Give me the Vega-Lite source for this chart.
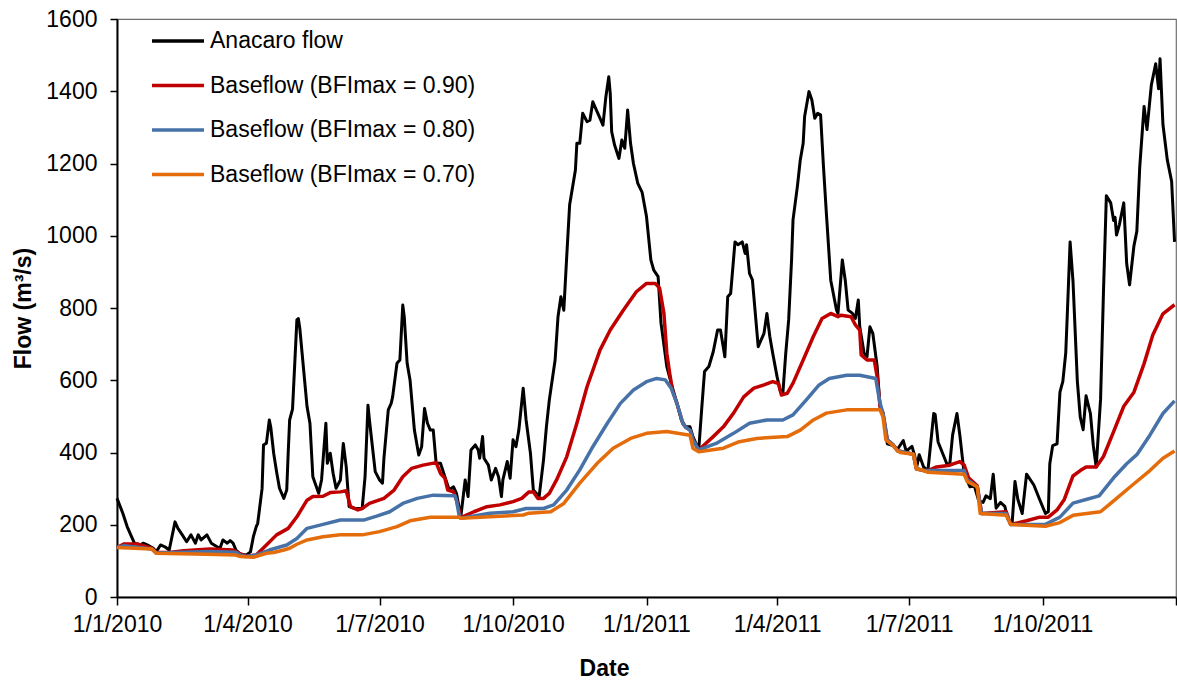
{
  "$schema": "https://vega.github.io/schema/vega-lite/v6.json",
  "width": 1059,
  "height": 578,
  "autosize": {"type": "none"},
  "padding": {"left": 117, "top": 19, "right": 1, "bottom": 87},
  "background": "white",
  "config": {
    "font": "Liberation Sans",
    "view": {"stroke": "#6f6f6f", "strokeWidth": 1.2}
  },
  "datasets": {
    "anacaro": [
      {"date":"2010-01-01","flow":273},{"date":"2010-01-05","flow":232},{"date":"2010-01-08","flow":195},{"date":"2010-01-11","flow":167},{"date":"2010-01-13","flow":149},{"date":"2010-01-17","flow":144},{"date":"2010-01-19","flow":149},{"date":"2010-01-23","flow":142},{"date":"2010-01-26","flow":135},{"date":"2010-01-28","flow":125},{"date":"2010-01-31","flow":144},
      {"date":"2010-02-03","flow":139},{"date":"2010-02-06","flow":130},{"date":"2010-02-10","flow":208},{"date":"2010-02-12","flow":190},{"date":"2010-02-15","flow":172},{"date":"2010-02-18","flow":153},{"date":"2010-02-21","flow":172},{"date":"2010-02-24","flow":149},{"date":"2010-02-26","flow":172},{"date":"2010-02-28","flow":158},
      {"date":"2010-03-04","flow":172},{"date":"2010-03-07","flow":149},{"date":"2010-03-11","flow":139},{"date":"2010-03-13","flow":135},{"date":"2010-03-15","flow":158},{"date":"2010-03-18","flow":149},{"date":"2010-03-20","flow":156},{"date":"2010-03-22","flow":149},{"date":"2010-03-24","flow":130},{"date":"2010-03-27","flow":119},{"date":"2010-03-31","flow":116},
      {"date":"2010-04-03","flow":125},{"date":"2010-04-05","flow":167},{"date":"2010-04-07","flow":195},{"date":"2010-04-08","flow":204},{"date":"2010-04-11","flow":300},{"date":"2010-04-12","flow":421},{"date":"2010-04-14","flow":426},{"date":"2010-04-16","flow":490},{"date":"2010-04-17","flow":470},{"date":"2010-04-19","flow":398},{"date":"2010-04-21","flow":347},{"date":"2010-04-23","flow":301},{"date":"2010-04-26","flow":273},{"date":"2010-04-28","flow":296},{"date":"2010-04-29","flow":398},{"date":"2010-04-30","flow":490},
      {"date":"2010-05-02","flow":520},{"date":"2010-05-05","flow":767},{"date":"2010-05-06","flow":771},{"date":"2010-05-07","flow":744},{"date":"2010-05-12","flow":527},{"date":"2010-05-14","flow":481},{"date":"2010-05-16","flow":333},{"date":"2010-05-20","flow":287},{"date":"2010-05-22","flow":324},{"date":"2010-05-25","flow":481},{"date":"2010-05-26","flow":370},{"date":"2010-05-28","flow":398},{"date":"2010-05-30","flow":342},
      {"date":"2010-06-01","flow":301},{"date":"2010-06-04","flow":324},{"date":"2010-06-06","flow":425},{"date":"2010-06-08","flow":361},{"date":"2010-06-10","flow":250},{"date":"2010-06-14","flow":245},{"date":"2010-06-19","flow":245},{"date":"2010-06-21","flow":333},{"date":"2010-06-23","flow":531},{"date":"2010-06-24","flow":490},{"date":"2010-06-28","flow":347},
      {"date":"2010-07-01","flow":324},{"date":"2010-07-03","flow":315},{"date":"2010-07-04","flow":384},{"date":"2010-07-07","flow":518},{"date":"2010-07-09","flow":536},{"date":"2010-07-10","flow":554},{"date":"2010-07-13","flow":647},{"date":"2010-07-15","flow":656},{"date":"2010-07-17","flow":808},{"date":"2010-07-18","flow":776},{"date":"2010-07-20","flow":647},{"date":"2010-07-22","flow":601},{"date":"2010-07-25","flow":462},{"date":"2010-07-28","flow":393},{"date":"2010-07-30","flow":416},
      {"date":"2010-08-01","flow":522},{"date":"2010-08-03","flow":481},{"date":"2010-08-05","flow":462},{"date":"2010-08-07","flow":462},{"date":"2010-08-09","flow":370},{"date":"2010-08-12","flow":370},{"date":"2010-08-15","flow":333},{"date":"2010-08-18","flow":296},{"date":"2010-08-21","flow":305},{"date":"2010-08-23","flow":287},{"date":"2010-08-26","flow":222},{"date":"2010-08-29","flow":324},{"date":"2010-08-31","flow":278},
      {"date":"2010-09-02","flow":407},{"date":"2010-09-05","flow":421},{"date":"2010-09-07","flow":407},{"date":"2010-09-08","flow":384},{"date":"2010-09-10","flow":444},{"date":"2010-09-11","flow":384},{"date":"2010-09-14","flow":365},{"date":"2010-09-16","flow":324},{"date":"2010-09-19","flow":356},{"date":"2010-09-21","flow":333},{"date":"2010-09-23","flow":278},{"date":"2010-09-24","flow":324},{"date":"2010-09-27","flow":375},{"date":"2010-09-29","flow":329},
      {"date":"2010-10-01","flow":435},{"date":"2010-10-03","flow":416},{"date":"2010-10-05","flow":462},{"date":"2010-10-08","flow":578},{"date":"2010-10-10","flow":490},{"date":"2010-10-13","flow":398},{"date":"2010-10-15","flow":296},{"date":"2010-10-19","flow":278},{"date":"2010-10-22","flow":379},{"date":"2010-10-24","flow":471},{"date":"2010-10-26","flow":545},{"date":"2010-10-30","flow":656},
      {"date":"2010-11-01","flow":776},{"date":"2010-11-03","flow":831},{"date":"2010-11-05","flow":794},{"date":"2010-11-07","flow":942},{"date":"2010-11-09","flow":1085},{"date":"2010-11-13","flow":1182},{"date":"2010-11-14","flow":1256},{"date":"2010-11-16","flow":1256},{"date":"2010-11-18","flow":1339},{"date":"2010-11-21","flow":1316},{"date":"2010-11-23","flow":1320},{"date":"2010-11-25","flow":1371},{"date":"2010-11-28","flow":1343},{"date":"2010-11-30","flow":1325},
      {"date":"2010-12-02","flow":1306},{"date":"2010-12-04","flow":1385},{"date":"2010-12-06","flow":1440},{"date":"2010-12-07","flow":1394},{"date":"2010-12-08","flow":1288},{"date":"2010-12-10","flow":1251},{"date":"2010-12-13","flow":1214},{"date":"2010-12-15","flow":1265},{"date":"2010-12-17","flow":1242},{"date":"2010-12-19","flow":1348},{"date":"2010-12-21","flow":1256},{"date":"2010-12-23","flow":1200},{"date":"2010-12-26","flow":1145},{"date":"2010-12-29","flow":1120},
      {"date":"2011-01-01","flow":1053},{"date":"2011-01-04","flow":933},{"date":"2011-01-06","flow":905},{"date":"2011-01-09","flow":887},{"date":"2011-01-11","flow":758},{"date":"2011-01-15","flow":638},{"date":"2011-01-18","flow":592},{"date":"2011-01-22","flow":536},{"date":"2011-01-25","flow":490},{"date":"2011-01-28","flow":471},{"date":"2011-01-31","flow":471},
      {"date":"2011-02-02","flow":444},{"date":"2011-02-06","flow":407},{"date":"2011-02-08","flow":518},{"date":"2011-02-10","flow":624},{"date":"2011-02-13","flow":638},{"date":"2011-02-16","flow":679},{"date":"2011-02-19","flow":739},{"date":"2011-02-21","flow":739},{"date":"2011-02-24","flow":665},{"date":"2011-02-26","flow":831},{"date":"2011-02-28","flow":840},
      {"date":"2011-03-03","flow":983},{"date":"2011-03-05","flow":975},{"date":"2011-03-08","flow":983},{"date":"2011-03-10","flow":951},{"date":"2011-03-11","flow":975},{"date":"2011-03-13","flow":896},{"date":"2011-03-15","flow":878},{"date":"2011-03-19","flow":693},{"date":"2011-03-23","flow":730},{"date":"2011-03-25","flow":785},{"date":"2011-03-27","flow":721},{"date":"2011-03-29","flow":675},
      {"date":"2011-04-01","flow":610},{"date":"2011-04-03","flow":573},{"date":"2011-04-05","flow":564},{"date":"2011-04-07","flow":675},{"date":"2011-04-09","flow":767},{"date":"2011-04-11","flow":933},{"date":"2011-04-12","flow":1044},{"date":"2011-04-15","flow":1136},{"date":"2011-04-17","flow":1210},{"date":"2011-04-19","flow":1256},{"date":"2011-04-20","flow":1330},{"date":"2011-04-23","flow":1399},{"date":"2011-04-25","flow":1376},{"date":"2011-04-27","flow":1325},{"date":"2011-04-29","flow":1339},
      {"date":"2011-05-01","flow":1335},{"date":"2011-05-03","flow":1191},{"date":"2011-05-05","flow":1062},{"date":"2011-05-08","flow":877},{"date":"2011-05-12","flow":794},{"date":"2011-05-13","flow":785},{"date":"2011-05-16","flow":933},{"date":"2011-05-18","flow":877},{"date":"2011-05-20","flow":794},{"date":"2011-05-23","flow":785},{"date":"2011-05-25","flow":771},{"date":"2011-05-27","flow":822},{"date":"2011-05-28","flow":748},{"date":"2011-05-31","flow":675},
      {"date":"2011-06-02","flow":665},{"date":"2011-06-04","flow":748},{"date":"2011-06-06","flow":730},{"date":"2011-06-09","flow":638},{"date":"2011-06-11","flow":527},{"date":"2011-06-13","flow":509},{"date":"2011-06-16","flow":424},{"date":"2011-06-20","flow":419},{"date":"2011-06-23","flow":409},{"date":"2011-06-27","flow":433},{"date":"2011-06-29","flow":404},
      {"date":"2011-07-03","flow":417},{"date":"2011-07-05","flow":389},{"date":"2011-07-06","flow":355},{"date":"2011-07-08","flow":394},{"date":"2011-07-11","flow":360},{"date":"2011-07-14","flow":350},{"date":"2011-07-18","flow":508},{"date":"2011-07-19","flow":505},{"date":"2011-07-21","flow":429},{"date":"2011-07-25","flow":389},{"date":"2011-07-27","flow":369},{"date":"2011-07-29","flow":365},{"date":"2011-07-31","flow":448},
      {"date":"2011-08-03","flow":508},{"date":"2011-08-05","flow":448},{"date":"2011-08-08","flow":340},{"date":"2011-08-12","flow":305},{"date":"2011-08-15","flow":308},{"date":"2011-08-18","flow":266},{"date":"2011-08-21","flow":262},{"date":"2011-08-23","flow":280},{"date":"2011-08-26","flow":272},{"date":"2011-08-28","flow":340},{"date":"2011-08-30","flow":246},
      {"date":"2011-09-02","flow":262},{"date":"2011-09-05","flow":251},{"date":"2011-09-07","flow":216},{"date":"2011-09-10","flow":201},{"date":"2011-09-12","flow":320},{"date":"2011-09-14","flow":270},{"date":"2011-09-17","flow":231},{"date":"2011-09-20","flow":340},{"date":"2011-09-25","flow":310},{"date":"2011-09-29","flow":270},
      {"date":"2011-10-03","flow":231},{"date":"2011-10-05","flow":236},{"date":"2011-10-06","flow":369},{"date":"2011-10-08","flow":419},{"date":"2011-10-11","flow":424},{"date":"2011-10-13","flow":567},{"date":"2011-10-15","flow":597},{"date":"2011-10-17","flow":676},{"date":"2011-10-18","flow":775},{"date":"2011-10-20","flow":983},{"date":"2011-10-22","flow":874},{"date":"2011-10-25","flow":597},{"date":"2011-10-27","flow":498},{"date":"2011-10-29","flow":463},{"date":"2011-10-31","flow":557},
      {"date":"2011-11-03","flow":508},{"date":"2011-11-05","flow":419},{"date":"2011-11-07","flow":360},{"date":"2011-11-10","flow":547},{"date":"2011-11-12","flow":844},{"date":"2011-11-14","flow":1111},{"date":"2011-11-17","flow":1091},{"date":"2011-11-19","flow":1042},{"date":"2011-11-20","flow":1051},{"date":"2011-11-21","flow":1002},{"date":"2011-11-23","flow":1031},{"date":"2011-11-26","flow":1091},{"date":"2011-11-28","flow":923},{"date":"2011-11-30","flow":864},
      {"date":"2011-12-03","flow":972},{"date":"2011-12-05","flow":1012},{"date":"2011-12-07","flow":1190},{"date":"2011-12-10","flow":1358},{"date":"2011-12-12","flow":1294},{"date":"2011-12-15","flow":1417},{"date":"2011-12-18","flow":1476},{"date":"2011-12-20","flow":1407},{"date":"2011-12-21","flow":1490},{"date":"2011-12-23","flow":1308},{"date":"2011-12-26","flow":1210},{"date":"2011-12-29","flow":1150},{"date":"2011-12-31","flow":983}
    ],
    "bf90": [
      {"date":"2010-01-01","flow":137},{"date":"2010-01-06","flow":147},{"date":"2010-01-15","flow":147},{"date":"2010-01-19","flow":142},{"date":"2010-01-25","flow":135},{"date":"2010-01-28","flow":123},{"date":"2010-02-06","flow":123},{"date":"2010-02-16","flow":128},{"date":"2010-03-06","flow":133},{"date":"2010-03-22","flow":130},{"date":"2010-03-27","flow":119},{"date":"2010-03-31","flow":113},
      {"date":"2010-04-07","flow":116},{"date":"2010-04-14","flow":144},{"date":"2010-04-21","flow":172},{"date":"2010-04-29","flow":190},{"date":"2010-05-05","flow":222},{"date":"2010-05-12","flow":268},{"date":"2010-05-16","flow":278},{"date":"2010-05-23","flow":279},{"date":"2010-05-28","flow":289},{"date":"2010-06-04","flow":291},{"date":"2010-06-08","flow":294},{"date":"2010-06-11","flow":250},{"date":"2010-06-16","flow":241},{"date":"2010-06-19","flow":245},{"date":"2010-06-24","flow":259},
      {"date":"2010-07-04","flow":273},{"date":"2010-07-11","flow":296},{"date":"2010-07-17","flow":333},{"date":"2010-07-23","flow":356},{"date":"2010-07-31","flow":365},{"date":"2010-08-09","flow":372},{"date":"2010-08-12","flow":342},{"date":"2010-08-15","flow":329},{"date":"2010-08-17","flow":296},{"date":"2010-08-21","flow":291},{"date":"2010-08-23","flow":268},{"date":"2010-08-26","flow":220},
      {"date":"2010-09-04","flow":236},{"date":"2010-09-13","flow":250},{"date":"2010-09-22","flow":255},{"date":"2010-10-01","flow":264},{"date":"2010-10-07","flow":273},{"date":"2010-10-12","flow":291},{"date":"2010-10-15","flow":291},{"date":"2010-10-18","flow":273},{"date":"2010-10-22","flow":273},{"date":"2010-10-26","flow":287},{"date":"2010-10-31","flow":324},
      {"date":"2010-11-07","flow":388},{"date":"2010-11-14","flow":481},{"date":"2010-11-21","flow":582},{"date":"2010-11-30","flow":684},{"date":"2010-12-07","flow":739},{"date":"2010-12-16","flow":794},{"date":"2010-12-25","flow":845},{"date":"2011-01-01","flow":868},{"date":"2011-01-07","flow":868},{"date":"2011-01-10","flow":855},{"date":"2011-01-13","flow":785},{"date":"2011-01-15","flow":675},{"date":"2011-01-17","flow":619},{"date":"2011-01-19","flow":570},{"date":"2011-01-22","flow":536},{"date":"2011-01-26","flow":481},{"date":"2011-01-28","flow":470},{"date":"2011-01-31","flow":462},
      {"date":"2011-02-02","flow":435},{"date":"2011-02-06","flow":407},{"date":"2011-02-16","flow":444},{"date":"2011-02-23","flow":471},{"date":"2011-03-02","flow":509},{"date":"2011-03-09","flow":554},{"date":"2011-03-16","flow":578},{"date":"2011-03-23","flow":587},{"date":"2011-03-29","flow":596},{"date":"2011-04-02","flow":591},{"date":"2011-04-04","flow":559},{"date":"2011-04-08","flow":564},{"date":"2011-04-12","flow":592},{"date":"2011-04-19","flow":656},{"date":"2011-04-26","flow":721},
      {"date":"2011-05-02","flow":771},{"date":"2011-05-08","flow":785},{"date":"2011-05-13","flow":776},{"date":"2011-05-15","flow":780},{"date":"2011-05-22","flow":776},{"date":"2011-05-25","flow":753},{"date":"2011-05-28","flow":739},{"date":"2011-05-29","flow":670},{"date":"2011-06-02","flow":656},{"date":"2011-06-07","flow":656},{"date":"2011-06-09","flow":610},{"date":"2011-06-11","flow":527},{"date":"2011-06-13","flow":509},{"date":"2011-06-16","flow":435},{"date":"2011-06-20","flow":421},{"date":"2011-06-23","flow":405},
      {"date":"2011-07-04","flow":395},{"date":"2011-07-06","flow":355},{"date":"2011-07-11","flow":350},{"date":"2011-07-14","flow":350},{"date":"2011-07-20","flow":360},{"date":"2011-07-29","flow":365},{"date":"2011-08-05","flow":375},{"date":"2011-08-08","flow":365},{"date":"2011-08-11","flow":330},{"date":"2011-08-17","flow":308},{"date":"2011-08-20","flow":231},
      {"date":"2011-09-06","flow":236},{"date":"2011-09-09","flow":201},{"date":"2011-09-20","flow":211},{"date":"2011-09-29","flow":221},{"date":"2011-10-05","flow":221},{"date":"2011-10-11","flow":241},{"date":"2011-10-16","flow":270},{"date":"2011-10-22","flow":335},{"date":"2011-10-27","flow":350},{"date":"2011-10-31","flow":360},{"date":"2011-11-07","flow":360},{"date":"2011-11-12","flow":389},{"date":"2011-11-19","flow":458},{"date":"2011-11-26","flow":528},
      {"date":"2011-12-03","flow":567},{"date":"2011-12-10","flow":646},{"date":"2011-12-16","flow":725},{"date":"2011-12-23","flow":784},{"date":"2011-12-31","flow":809}
    ],
    "bf80": [
      {"date":"2010-01-01","flow":137},{"date":"2010-01-06","flow":142},{"date":"2010-01-25","flow":133},{"date":"2010-01-28","flow":122},{"date":"2010-03-06","flow":126},{"date":"2010-03-24","flow":124},{"date":"2010-03-27","flow":116},{"date":"2010-03-31","flow":112},
      {"date":"2010-04-07","flow":116},{"date":"2010-04-16","flow":130},{"date":"2010-04-28","flow":144},{"date":"2010-05-05","flow":162},{"date":"2010-05-12","flow":190},{"date":"2010-05-21","flow":199},{"date":"2010-06-04","flow":213},{"date":"2010-06-20","flow":213},{"date":"2010-06-29","flow":224},
      {"date":"2010-07-08","flow":236},{"date":"2010-07-17","flow":259},{"date":"2010-07-27","flow":273},{"date":"2010-08-07","flow":282},{"date":"2010-08-22","flow":280},{"date":"2010-08-23","flow":268},{"date":"2010-08-25","flow":222},{"date":"2010-08-26","flow":218},
      {"date":"2010-09-15","flow":232},{"date":"2010-10-01","flow":236},{"date":"2010-10-10","flow":245},{"date":"2010-10-22","flow":245},{"date":"2010-10-29","flow":255},{"date":"2010-11-07","flow":296},{"date":"2010-11-16","flow":352},{"date":"2010-11-25","flow":416},{"date":"2010-12-05","flow":481},{"date":"2010-12-14","flow":536},{"date":"2010-12-23","flow":573},
      {"date":"2011-01-01","flow":596},{"date":"2011-01-08","flow":605},{"date":"2011-01-14","flow":601},{"date":"2011-01-18","flow":578},{"date":"2011-01-22","flow":536},{"date":"2011-01-26","flow":481},{"date":"2011-01-28","flow":470},{"date":"2011-01-31","flow":462},
      {"date":"2011-02-02","flow":435},{"date":"2011-02-06","flow":407},{"date":"2011-02-18","flow":425},{"date":"2011-03-02","flow":453},{"date":"2011-03-13","flow":481},{"date":"2011-03-25","flow":490},{"date":"2011-04-05","flow":490},{"date":"2011-04-12","flow":504},{"date":"2011-04-21","flow":545},{"date":"2011-04-30","flow":587},
      {"date":"2011-05-07","flow":605},{"date":"2011-05-19","flow":614},{"date":"2011-05-28","flow":614},{"date":"2011-06-08","flow":605},{"date":"2011-06-11","flow":536},{"date":"2011-06-13","flow":509},{"date":"2011-06-16","flow":435},{"date":"2011-06-20","flow":421},{"date":"2011-06-23","flow":405},
      {"date":"2011-07-04","flow":395},{"date":"2011-07-06","flow":355},{"date":"2011-07-11","flow":350},{"date":"2011-08-08","flow":350},{"date":"2011-08-10","flow":325},{"date":"2011-08-17","flow":305},{"date":"2011-08-20","flow":231},{"date":"2011-09-06","flow":231},{"date":"2011-09-09","flow":201},
      {"date":"2011-10-03","flow":201},{"date":"2011-10-13","flow":221},{"date":"2011-10-22","flow":260},{"date":"2011-10-31","flow":270},{"date":"2011-11-09","flow":280},{"date":"2011-11-19","flow":330},{"date":"2011-11-28","flow":369},{"date":"2011-12-05","flow":394},{"date":"2011-12-14","flow":448},{"date":"2011-12-23","flow":508},{"date":"2011-12-31","flow":543}
    ],
    "bf70": [
      {"date":"2010-01-01","flow":137},{"date":"2010-01-25","flow":133},{"date":"2010-01-28","flow":121},{"date":"2010-03-04","flow":118},{"date":"2010-03-24","flow":116},{"date":"2010-03-27","flow":112},{"date":"2010-04-05","flow":110},
      {"date":"2010-04-14","flow":121},{"date":"2010-04-19","flow":123},{"date":"2010-04-26","flow":130},{"date":"2010-04-30","flow":135},{"date":"2010-05-05","flow":146},{"date":"2010-05-12","flow":158},{"date":"2010-05-23","flow":167},{"date":"2010-06-04","flow":172},{"date":"2010-06-19","flow":172},
      {"date":"2010-07-01","flow":181},{"date":"2010-07-13","flow":195},{"date":"2010-07-22","flow":211},{"date":"2010-08-05","flow":221},{"date":"2010-08-25","flow":221},{"date":"2010-08-26","flow":218},{"date":"2010-09-15","flow":222},{"date":"2010-10-08","flow":227},{"date":"2010-10-12","flow":232},{"date":"2010-10-27","flow":236},
      {"date":"2010-11-05","flow":259},{"date":"2010-11-16","flow":315},{"date":"2010-11-28","flow":370},{"date":"2010-12-09","flow":412},{"date":"2010-12-21","flow":439},{"date":"2011-01-01","flow":453},{"date":"2011-01-15","flow":458},{"date":"2011-01-31","flow":448},
      {"date":"2011-02-02","flow":412},{"date":"2011-02-06","flow":402},{"date":"2011-02-23","flow":412},{"date":"2011-03-06","flow":430},{"date":"2011-03-18","flow":439},{"date":"2011-04-08","flow":444},{"date":"2011-04-17","flow":462},{"date":"2011-04-26","flow":490},{"date":"2011-05-05","flow":509},{"date":"2011-05-19","flow":518},
      {"date":"2011-06-11","flow":518},{"date":"2011-06-13","flow":499},{"date":"2011-06-15","flow":435},{"date":"2011-06-20","flow":419},{"date":"2011-06-23","flow":405},{"date":"2011-06-25","flow":400},{"date":"2011-07-04","flow":395},{"date":"2011-07-06","flow":355},{"date":"2011-07-11","flow":350},{"date":"2011-07-14","flow":345},
      {"date":"2011-08-08","flow":340},{"date":"2011-08-10","flow":320},{"date":"2011-08-17","flow":305},{"date":"2011-08-19","flow":231},{"date":"2011-09-06","flow":226},{"date":"2011-09-09","flow":201},{"date":"2011-10-03","flow":196},{"date":"2011-10-13","flow":206},{"date":"2011-10-22","flow":226},
      {"date":"2011-11-10","flow":236},{"date":"2011-11-19","flow":266},{"date":"2011-12-02","flow":310},{"date":"2011-12-14","flow":350},{"date":"2011-12-23","flow":384},{"date":"2011-12-31","flow":404}
    ]
  },
  "encoding": {
    "x": {
      "field": "date",
      "type": "temporal",
      "scale": {
        "type": "utc",
        "domain": [{"year": 2010, "month": 1, "date": 1, "utc": true}, {"year": 2012, "month": 1, "date": 1, "utc": true}]
      },
      "axis": {
        "title": "Date",
        "values": [
          {"year": 2010, "month": 1, "date": 1, "utc": true},
          {"year": 2010, "month": 4, "date": 1, "utc": true},
          {"year": 2010, "month": 7, "date": 1, "utc": true},
          {"year": 2010, "month": 10, "date": 1, "utc": true},
          {"year": 2011, "month": 1, "date": 1, "utc": true},
          {"year": 2011, "month": 4, "date": 1, "utc": true},
          {"year": 2011, "month": 7, "date": 1, "utc": true},
          {"year": 2011, "month": 10, "date": 1, "utc": true},
          {"year": 2012, "month": 1, "date": 1, "utc": true}
        ],
        "format": "%-d/%-m/%Y",
        "labelExpr": "utcyear(datum.value) > 2011 ? '' : datum.label",
        "labelFontSize": 23,
        "labelColor": "black",
        "labelPadding": 8,
        "labelFlush": false,
        "labelOverlap": false,
        "domainColor": "black",
        "domainWidth": 2,
        "tickColor": "black",
        "tickWidth": 1.5,
        "tickSize": 8,
        "grid": false,
        "titleFontSize": 23,
        "titleFontWeight": "bold",
        "titleColor": "black",
        "titleX": 487,
        "titleY": 71,
        "titleAlign": "center",
        "titleBaseline": "middle"
      }
    },
    "y": {
      "field": "flow",
      "type": "quantitative",
      "scale": {"domain": [0, 1600], "nice": false, "zero": true},
      "axis": {
        "title": "Flow (m³/s)",
        "values": [0, 200, 400, 600, 800, 1000, 1200, 1400, 1600],
        "format": "d",
        "labelFontSize": 23,
        "labelColor": "black",
        "labelPadding": 13,
        "domainColor": "black",
        "domainWidth": 2,
        "tickColor": "black",
        "tickWidth": 1.5,
        "tickSize": 7,
        "grid": false,
        "titleFontSize": 23,
        "titleFontWeight": "bold",
        "titleColor": "black",
        "titleX": -94,
        "titleY": 289,
        "titleAlign": "center",
        "titleBaseline": "middle",
        "titleAngle": 270
      }
    }
  },
  "layer": [
    {
      "data": {"name": "anacaro"},
      "mark": {"type": "line", "strokeWidth": 3, "strokeJoin": "round"},
      "encoding": {
        "color": {
          "datum": "Anacaro flow",
          "type": "nominal",
          "scale": {
            "domain": ["Anacaro flow", "Baseflow (BFImax = 0.90)", "Baseflow (BFImax = 0.80)", "Baseflow (BFImax = 0.70)"],
            "range": ["#000000", "#C00000", "#4672A8", "#E46C0A"]
          },
          "legend": {
            "title": null,
            "orient": "none",
            "legendX": 33,
            "legendY": -6,
            "padding": 0,
            "symbolType": "stroke",
            "symbolSize": 2704,
            "symbolStrokeWidth": 3.5,
            "labelFontSize": 23,
            "labelColor": "black",
            "labelOffset": 4,
            "labelLimit": 500,
            "rowPadding": 4.5
          }
        }
      }
    },
    {
      "data": {"name": "bf90"},
      "mark": {"type": "line", "strokeWidth": 3.5, "strokeJoin": "round"},
      "encoding": {"color": {"datum": "Baseflow (BFImax = 0.90)", "type": "nominal"}}
    },
    {
      "data": {"name": "bf80"},
      "mark": {"type": "line", "strokeWidth": 3.5, "strokeJoin": "round"},
      "encoding": {"color": {"datum": "Baseflow (BFImax = 0.80)", "type": "nominal"}}
    },
    {
      "data": {"name": "bf70"},
      "mark": {"type": "line", "strokeWidth": 3.5, "strokeJoin": "round"},
      "encoding": {"color": {"datum": "Baseflow (BFImax = 0.70)", "type": "nominal"}}
    }
  ]
}
